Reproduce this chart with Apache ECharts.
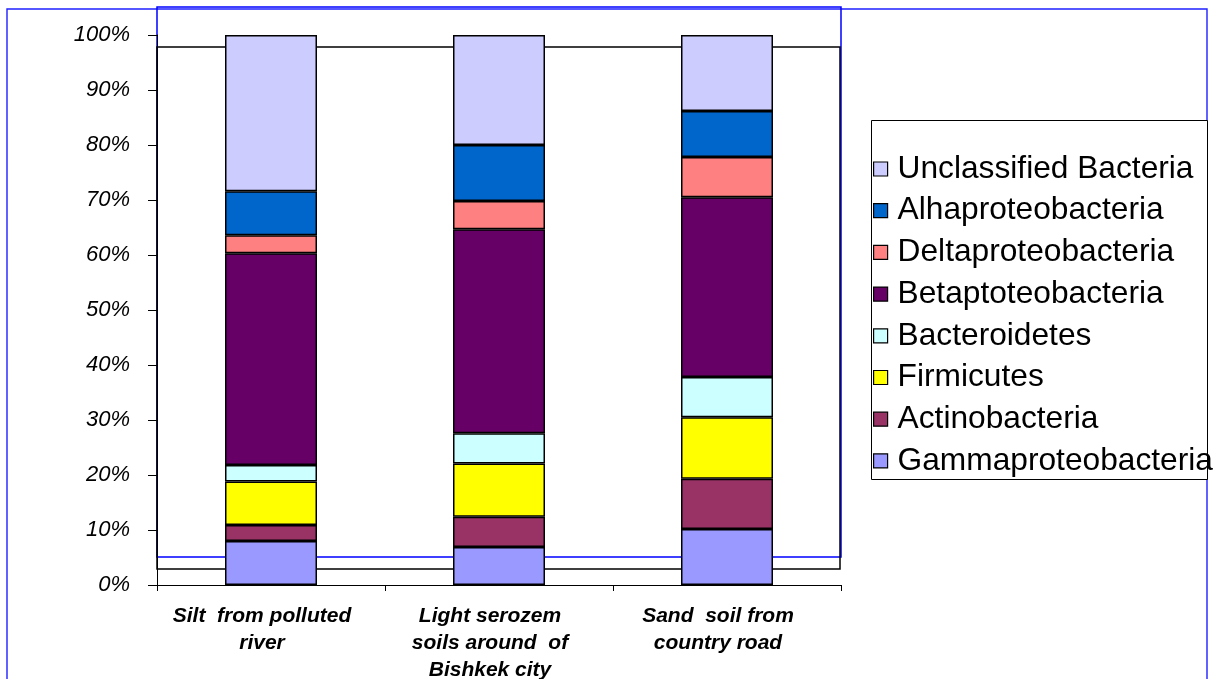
<!DOCTYPE html>
<html>
<head>
<meta charset="utf-8">
<script src="https://cdn.jsdelivr.net/npm/echarts@6/dist/echarts.min.js"></script>
<style>
html,body{margin:0;padding:0;background:#fff;}
#chart{width:1218px;height:679px;}
</style>
</head>
<body>
<div id="chart"></div>
<script>
// ---- data ----
const categories = ["Silt  from polluted\nriver", "Light serozem\nsoils around  of\nBishkek city", "Sand  soil from\ncountry road"];
const seriesNames = ["Gammaproteobacteria", "Actinobacteria", "Firmicutes", "Bacteroidetes", "Betaptoteobacteria", "Deltaproteobacteria", "Alhaproteobacteria", "Unclassified Bacteria"];
const gammaproteobacteria = [8.0, 6.9, 10.2];
const actinobacteria = [2.9, 5.5, 9.1];
const firmicutes = [7.9, 9.7, 11.2];
const bacteroidetes = [3.0, 5.5, 7.3];
const betaptoteobacteria = [38.5, 37.1, 32.7];
const deltaproteobacteria = [3.3, 5.1, 7.3];
const alhaproteobacteria = [8.0, 10.2, 8.4];
const unclassifiedBacteria = [28.4, 20.0, 13.8];
const yTicks = [0, 10, 20, 30, 40, 50, 60, 70, 80, 90, 100];

const seriesData = [gammaproteobacteria, actinobacteria, firmicutes, bacteroidetes, betaptoteobacteria, deltaproteobacteria, alhaproteobacteria, unclassifiedBacteria];
const colors = ["#9999FF", "#993366", "#FFFF00", "#CCFFFF", "#660066", "#FF8080", "#0066CC", "#CCCCFF"];

const FONT = "'Liberation Sans', Arial, sans-serif";
const chart = echarts.init(document.getElementById('chart'), null, {renderer: 'canvas'});

const option = {
  animation: false,
  backgroundColor: '#ffffff',
  color: colors,
  graphic: [
    {type: 'rect', z: 0, silent: true, shape: {x: 7, y: 9, width: 1200, height: 690}, style: {fill: null, stroke: '#2020FF', lineWidth: 1.4}},
    {type: 'rect', z: 0, silent: true, shape: {x: 157, y: 7, width: 684, height: 550}, style: {fill: null, stroke: '#0000FF', lineWidth: 1.5}},
    {type: 'rect', z: 0, silent: true, shape: {x: 157, y: 47, width: 683, height: 522}, style: {fill: null, stroke: '#000000', lineWidth: 1.5}},
    {type: 'rect', z: 0, silent: true, shape: {x: 871.5, y: 120.5, width: 336, height: 359}, style: {fill: '#ffffff', stroke: '#000000', lineWidth: 1}}
  ],
  grid: {left: 157, right: 377, top: 35, bottom: 94, containLabel: false, outerBoundsMode: 'none'},
  legend: {
    orient: 'vertical',
    left: 871,
    top: 121,
    padding: [32, 0, 6, 2],
    itemWidth: 14,
    itemHeight: 14,
    itemGap: 9.7,
    icon: 'rect',
    itemStyle: {borderColor: '#000', borderWidth: 1.2},
    data: seriesNames.slice().reverse(),
    textStyle: {fontFamily: FONT, fontSize: 31.7, color: '#000', lineHeight: 30, padding: [0, 0, 0, 5]}
  },
  xAxis: {
    type: 'category',
    data: categories,
    axisLine: {show: true, lineStyle: {color: '#000', width: 1}},
    axisTick: {show: true, length: 6, lineStyle: {color: '#000'}},
    axisLabel: {
      interval: 0, margin: 18,
      fontFamily: FONT, fontSize: 21, fontWeight: 'bold', fontStyle: 'italic',
      color: '#000', lineHeight: 27, padding: [0, 18, 0, 0]
    },
    splitLine: {show: false}
  },
  yAxis: {
    type: 'value',
    min: yTicks[0], max: yTicks[yTicks.length - 1], interval: yTicks[1] - yTicks[0],
    axisLine: {show: true, lineStyle: {color: '#000', width: 1}},
    axisTick: {show: true, length: 9, lineStyle: {color: '#000'}},
    axisLabel: {margin: 27, fontFamily: FONT, fontSize: 22, fontStyle: 'italic', color: '#000', formatter: '{value}%'},
    splitLine: {show: false}
  },
  series: seriesNames.map((name, i) => ({
    name: name,
    type: 'bar',
    stack: 'total',
    barWidth: 92,
    z: 2,
    data: seriesData[i],
    itemStyle: {color: colors[i], borderColor: '#000', borderWidth: 1.5}
  }))
};
chart.setOption(option);
</script>
</body>
</html>
